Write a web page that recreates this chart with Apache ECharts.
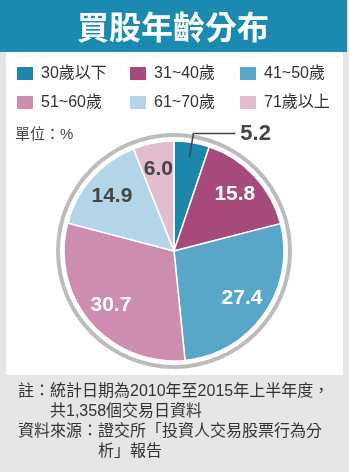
<!DOCTYPE html>
<html>
<head>
<meta charset="utf-8">
<script src="https://cdn.jsdelivr.net/npm/echarts@6/dist/echarts.min.js"></script>
<style>
  html, body { margin: 0; padding: 0; background: #e6e6e8; }
  #chart { width: 349px; height: 472px; }
</style>
</head>
<body>
<div id="chart"></div>
<script>
// Age groups of stock buyers and their share (%)
const categories = ['30歲以下', '31~40歲', '41~50歲', '51~60歲', '61~70歲', '71歲以上'];
const shares = [5.2, 15.8, 27.4, 30.7, 14.9, 6.0];
const palette = ['#1a87ab', '#a64a7c', '#58a6c8', '#cd8db0', '#b4d5e7', '#e4bcd0'];
const labelColors = ['#444', '#fff', '#fff', '#fff', '#444', '#444'];

const titleText = '買股年齡分布';
const unitText = '單位：%';
const noteLines = [
  '註：統計日期為2010年至2015年上半年度，',
  '共1,358個交易日資料',
  '資料來源：證交所「投資人交易股票行為分',
  '析」報告'
];

const FONT = '"Liberation Sans", "Noto Sans CJK TC", sans-serif';
const CENTER = [174, 251];
const R = 110;

const chart = echarts.init(document.getElementById('chart'), null, { renderer: 'canvas' });

const baseData = categories.map((name, i) => ({ name, value: shares[i] }));

// labels that sit inside the slices (all but the smallest one)
const insideLabelData = categories.map((name, i) => ({
  name,
  value: shares[i],
  label: {
    show: i !== 0,
    color: labelColors[i]
  }
}));

// the smallest slice gets an outside label with a leader line
const outsideLabelData = categories.map((name, i) => ({
  name,
  value: shares[i],
  label: { show: i === 0 },
  labelLine: { show: i === 0 }
}));

const legendCommon = {
  orient: 'vertical',
  top: 65,
  padding: 0,
  itemGap: 12,
  itemWidth: 18,
  itemHeight: 15,
  icon: 'rect',
  selectedMode: false,
  textStyle: { fontSize: 16, color: '#333', fontFamily: FONT, padding: [0, 0, 0, 2] }
};

const option = {
  animation: false,
  color: palette,
  backgroundColor: '#e6e6e8',
  graphic: [
    { type: 'rect', shape: { x: 6, y: 50, width: 337, height: 325 }, style: { fill: '#ffffff' }, z: -10 },
    { type: 'rect', shape: { x: 0, y: 0, width: 347, height: 52 }, style: { fill: '#1a8ab1' }, z: -9 },
    {
      type: 'text', x: 173, y: 27,
      style: {
        text: titleText, fill: '#ffffff', font: 'bold 32px "Noto Sans CJK TC", sans-serif',
        align: 'center', verticalAlign: 'middle'
      }
    },
    {
      type: 'text', x: 15, y: 135,
      style: { text: unitText, fill: '#444', font: '15px ' + FONT, verticalAlign: 'middle' }
    },
    ...noteLines.map((t, i) => ({
      type: 'text',
      x: (i === 1 ? 50 : i === 3 ? 98 : 18),
      y: 392 + i * 20,
      style: { text: t, fill: '#333', font: '16px ' + FONT, verticalAlign: 'middle' }
    }))
  ],
  legend: [
    Object.assign({ left: 15, data: [categories[0], categories[3]] }, legendCommon),
    Object.assign({ left: 128, data: [categories[1], categories[4]] }, legendCommon),
    Object.assign({ left: 238, data: [categories[2], categories[5]] }, legendCommon)
  ],
  series: [
    {
      name: 'share',
      type: 'pie',
      center: CENTER,
      radius: [0, R],
      startAngle: 90,
      clockwise: true,
      silent: true,
      itemStyle: { borderColor: '#ffffff', borderWidth: 1.5 },
      label: { show: false },
      labelLine: { show: false },
      data: baseData,
      z: 2
    },
    {
      // gray rim around the pie
      name: 'rim',
      type: 'pie',
      center: CENTER,
      radius: [114, 118],
      silent: true,
      label: { show: false },
      labelLine: { show: false },
      itemStyle: { color: '#bcbcbc' },
      data: [{ value: 1, name: '' }],
      z: 1
    },
    {
      name: 'insideLabels',
      type: 'pie',
      center: CENTER,
      radius: [50, R],
      startAngle: 90,
      clockwise: true,
      silent: true,
      itemStyle: { color: 'rgba(0,0,0,0)' },
      label: {
        position: 'inside',
        fontSize: 21,
        fontWeight: 'bold',
        fontFamily: FONT,
        formatter: p => p.value.toFixed(1)
      },
      labelLine: { show: false },
      data: insideLabelData,
      z: 3
    },
    {
      name: 'outsideLabel',
      type: 'pie',
      center: CENTER,
      radius: [0, 95],
      startAngle: 90,
      clockwise: true,
      silent: true,
      avoidLabelOverlap: false,
      itemStyle: { color: 'rgba(0,0,0,0)' },
      label: {
        position: 'outside',
        fontSize: 22,
        fontWeight: 'bold',
        fontFamily: FONT,
        color: '#444',
        distanceToLabelLine: 5,
        formatter: p => p.value.toFixed(1)
      },
      labelLine: {
        length: 24,
        length2: 42,
        lineStyle: { color: '#444', width: 1.5 }
      },
      data: outsideLabelData,
      z: 3
    }
  ]
};

chart.setOption(option);
</script>
</body>
</html>
